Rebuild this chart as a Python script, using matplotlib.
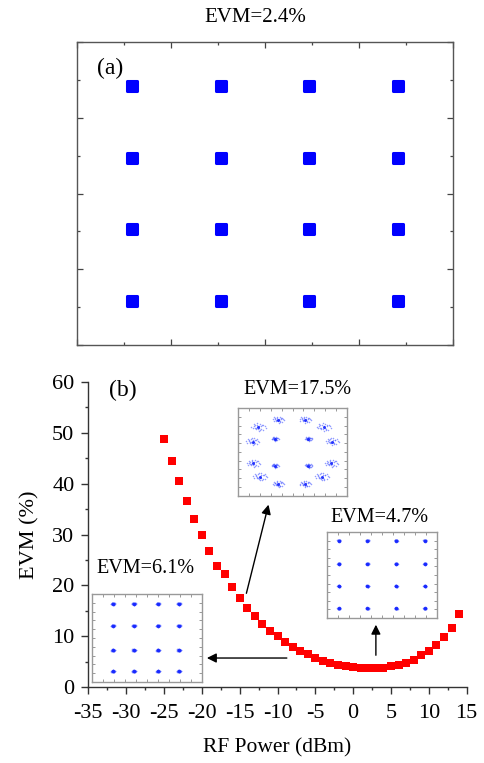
import numpy as np
import matplotlib.pyplot as plt
from matplotlib.markers import MarkerStyle
from matplotlib.ticker import MultipleLocator

plt.rcParams['font.family'] = ['Liberation Serif', 'DejaVu Serif']
plt.rcParams['axes.unicode_minus'] = False

# ---- data ----
# (a) back-to-back 16QAM constellation, cluster centres
levels_a = [-2.83, -0.94, 0.94, 2.83]

# (b) EVM vs RF power
rf_power = [-25, -24, -23, -22, -21, -20, -19, -18, -17, -16, -15, -14, -13, -12,
            -11, -10, -9, -8, -7, -6, -5, -4, -3, -2, -1, 0, 1, 2, 3, 4, 5, 6,
            7, 8, 9, 10, 11, 12, 13, 14]
evm = [48.7, 44.4, 40.5, 36.6, 33.0, 29.9, 26.8, 23.9, 22.2, 19.7, 17.5, 15.6,
       13.9, 12.4, 11.1, 10.0, 8.9, 7.9, 7.1, 6.4, 5.8, 5.2, 4.8, 4.4, 4.1, 3.9,
       3.7, 3.7, 3.7, 3.7, 4.1, 4.3, 4.8, 5.3, 6.2, 7.1, 8.3, 9.9, 11.7, 14.3]

# inset constellations (fractions of the inset box, y measured upward)
ins175_x = [0.185, 0.369, 0.615, 0.785, 0.132, 0.338, 0.646, 0.862,
            0.138, 0.338, 0.646, 0.855, 0.200, 0.369, 0.615, 0.769]
ins175_y = [0.782, 0.866, 0.866, 0.782, 0.618, 0.649, 0.649, 0.618,
            0.370, 0.344, 0.344, 0.370, 0.218, 0.134, 0.134, 0.218]
ins175_spread = [1.6, 1.3, 1.3, 1.6, 1.5, 0.8, 0.8, 1.5,
                 1.5, 0.8, 0.8, 1.5, 1.6, 1.3, 1.3, 1.6]
ins47_lv_x = [0.11, 0.37, 0.63, 0.89]
ins47_lv_y = [0.11, 0.37, 0.63, 0.90]
ins61_lv_x = [0.19, 0.38, 0.60, 0.79]
ins61_lv_y = [0.12, 0.36, 0.64, 0.89]

# hand-drawn scatter pattern used for each noisy cluster
jit_x = [0, 0.6, -0.5, 0.3, -0.8, 0.9, -0.2, 0.4, -0.6, 1.2, -1.1, 0.1, 0.7, -0.3,
         0.2, -0.9, 1.4, -1.3, 0.5, -0.4, 0.95, -0.7, 0.15, -0.1]
jit_y = [0, 0.3, -0.4, 0.8, 0.2, -0.6, 0.9, -0.7, -0.1, 0.2, -0.3, -0.9, 0.5, 0.6,
         -0.2, 0.7, -0.1, 0.1, -0.5, -0.2, 0.6, 0.4, 0.35, -0.45]

W, H = 484, 763
fig = plt.figure(figsize=(W / 100, H / 100), dpi=100)

# ---- panel (a) ----
ax1 = fig.add_axes([77 / W, 1 - 345 / H, 376 / W, 303 / H])
gx, gy = np.meshgrid(levels_a, levels_a)
blob = MarkerStyle('s', joinstyle='round')
ax1.plot(gx.ravel(), gy.ravel(), ls='none', marker=blob, ms=7.5, color='#0000ff',
         mec='#0000ff', mew=2.2)
ax1.set_xlim(-4, 4)
ax1.set_ylim(-4, 4)
ax1.xaxis.set_major_locator(MultipleLocator(2))
ax1.xaxis.set_minor_locator(MultipleLocator(1))
ax1.yaxis.set_major_locator(MultipleLocator(2))
ax1.yaxis.set_minor_locator(MultipleLocator(1))
ax1.tick_params(which='both', direction='in', top=True, right=True,
                labelbottom=False, labelleft=False, color='#444444')
ax1.tick_params(which='major', length=4, width=0.9)
ax1.tick_params(which='minor', length=2, width=0.9)
for s in ax1.spines.values():
    s.set_color('#555555')
    s.set_linewidth(1.0)
ax1.text(-3.3, 3.3, '(a)', fontsize=17, ha='center', va='center')
fig.text(255 / W, 1 - 17 / H, 'EVM=2.4%', fontsize=15, ha='center', va='center')

# ---- panel (b) ----
ax2 = fig.add_axes([88.3 / W, 1 - 687 / H, 378.4 / W, 305 / H])
ax2.plot(rf_power, evm, 's', color='#ff0000', ms=5.3, mew=0)
ax2.set_xlim(-35, 15)
ax2.set_ylim(0, 60)
ax2.xaxis.set_major_locator(MultipleLocator(5))
ax2.xaxis.set_minor_locator(MultipleLocator(2.5))
ax2.yaxis.set_major_locator(MultipleLocator(10))
ax2.yaxis.set_minor_locator(MultipleLocator(5))
ax2.spines['top'].set_visible(False)
ax2.spines['right'].set_visible(False)
for s in ['left', 'bottom']:
    ax2.spines[s].set_color('#333333')
    ax2.spines[s].set_linewidth(1.0)
ax2.tick_params(which='both', direction='out', labelsize=16, color='#333333')
ax2.tick_params(which='major', length=5, width=1.0)
ax2.tick_params(which='minor', length=2.5, width=1.0)
ax2.tick_params(axis='x', pad=7)
ax2.tick_params(axis='y', pad=5)
ax2.set_xlabel('RF Power (dBm)', fontsize=15.5, labelpad=11)
ax2.set_ylabel('EVM (%)', fontsize=16, labelpad=9)
ax2.text(-30.4, 58.4, '(b)', fontsize=17, ha='center', va='center')


def inset(x0, x1, y0, y1):
    a = ax2.inset_axes([x0, y0, x1 - x0, y1 - y0], transform=ax2.transData)
    a.set_xlim(0, 1)
    a.set_ylim(0, 1)
    a.xaxis.set_major_locator(MultipleLocator(0.1))
    a.yaxis.set_major_locator(MultipleLocator(0.1))
    a.tick_params(direction='in', length=2, width=0.6, color='#888888',
                  top=True, right=True, labelbottom=False, labelleft=False)
    for s in a.spines.values():
        s.set_color('#999999')
        s.set_linewidth(1.0)
    return a


def cluster(a, cx, cy, sc, ms, core):
    a.plot(np.array(cx) + sc * np.array(jit_x), np.array(cy) + sc * np.array(jit_y),
           'o', color='#4a5cff', ms=ms, mew=0, alpha=0.6)
    a.plot(cx, cy, 'o', color='#1020ff', ms=core, mew=0, alpha=0.85)


# EVM = 17.5 %
a175 = inset(-15.2, -0.82, 37.6, 54.9)
for cx, cy, sp in zip(ins175_x, ins175_y, ins175_spread):
    cluster(a175, cx, cy, 0.03 * sp, 1.1, 2.2)
ax2.text(-7.3, 58.6, 'EVM=17.5%', fontsize=14.5, ha='center', va='center')

# EVM = 4.7 %
a47 = inset(-3.5, 11.06, 13.6, 30.5)
for cy in ins47_lv_y:
    for cx in ins47_lv_x:
        cluster(a47, cx, cy, 0.01, 1.2, 2.6)
ax2.text(3.5, 33.4, 'EVM=4.7%', fontsize=14.5, ha='center', va='center')

# EVM = 6.1 %
a61 = inset(-34.5, -20.0, 1.0, 18.3)
for cy in ins61_lv_y:
    for cx in ins61_lv_x:
        cluster(a61, cx, cy, 0.014, 1.2, 2.6)
ax2.text(-27.5, 23.4, 'EVM=6.1%', fontsize=14.5, ha='center', va='center')

arrow = dict(arrowstyle='-|>', color='black', lw=1.0, mutation_scale=14)
ax2.annotate('', xy=(-11.1, 36.4), xytext=(-14.2, 17.9), arrowprops=arrow)
ax2.annotate('', xy=(3.0, 12.8), xytext=(3.0, 5.7), arrowprops=arrow)
ax2.annotate('', xy=(-19.7, 5.7), xytext=(-8.4, 5.7), arrowprops=arrow)

fig.savefig('out.png', dpi=100)
